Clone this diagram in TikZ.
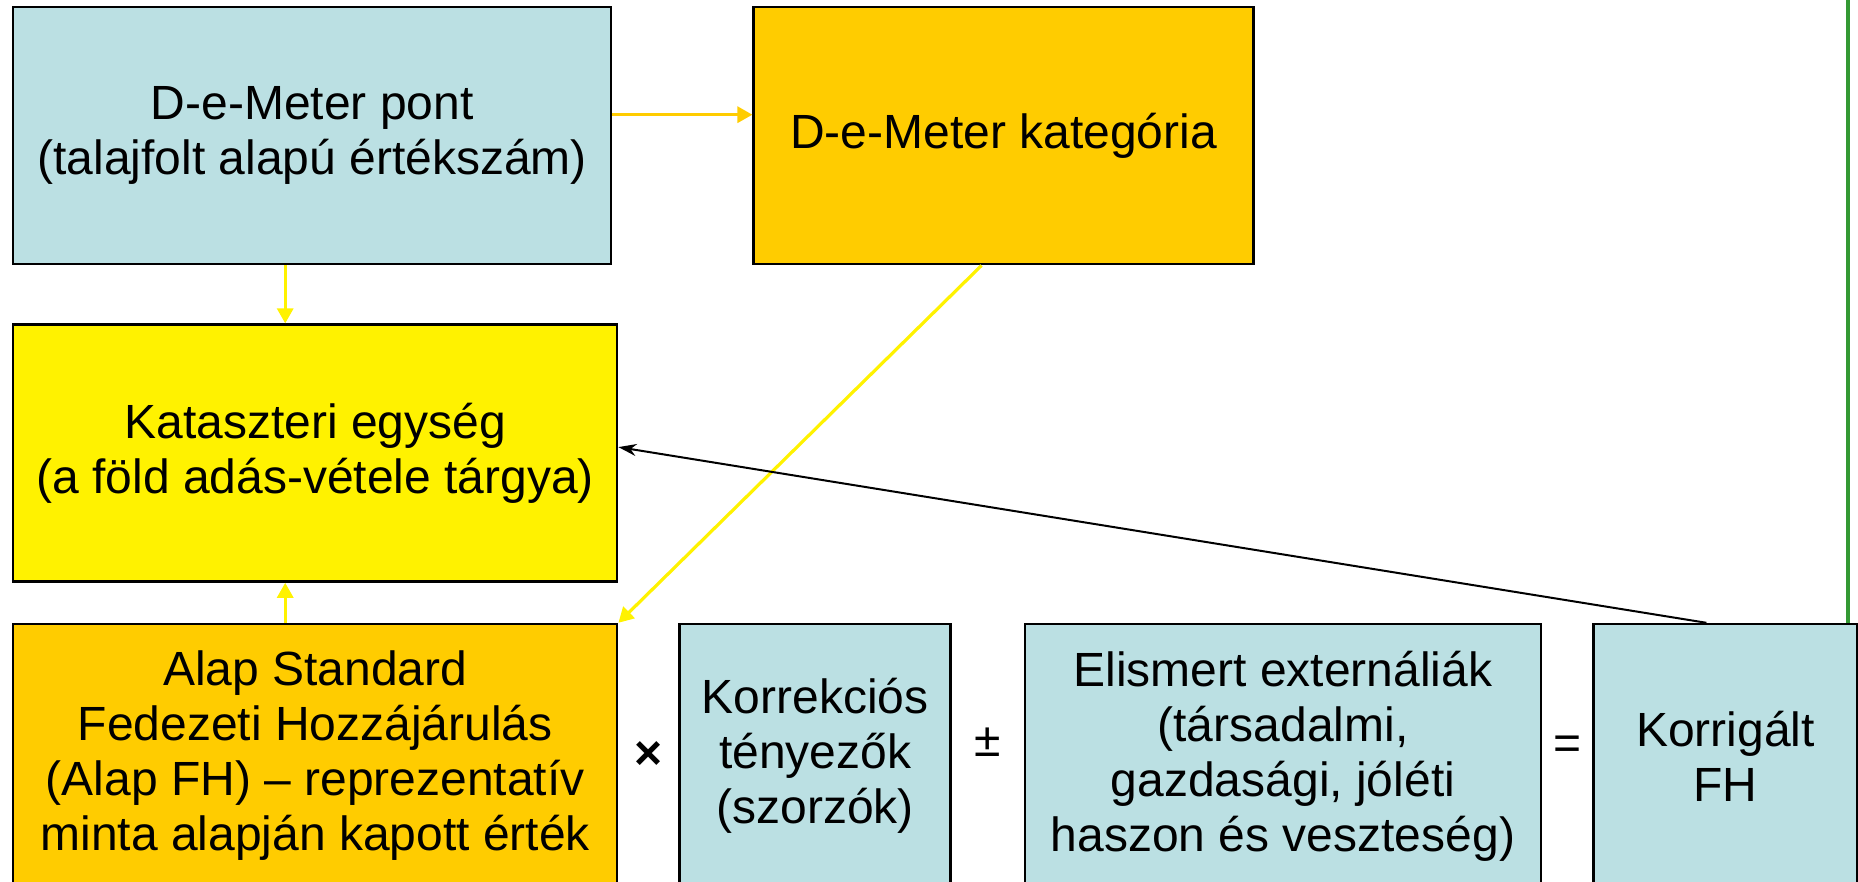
\documentclass[tikz,border=0pt]{standalone}
\usepackage{fontspec}
\setmainfont{Liberation Sans}
\usetikzlibrary{arrows.meta, positioning, calc}
\definecolor{lightblue}{RGB}{187,224,227}
\definecolor{gold}{RGB}{255,204,0}
\definecolor{linegreen}{RGB}{51,153,51}
\tikzstyle{box} = [rectangle, draw=black, line width=1.2pt, inner sep=0pt, align=center, font=\fontsize{24}{27.5}\selectfont]
\tikzstyle{bluebox} = [box, fill=lightblue]
\tikzstyle{goldbox} = [box, fill=gold]
\tikzstyle{yellowbox} = [box, fill=yellow]
\tikzstyle{op} = [font=\fontsize{24}{27.5}\selectfont]
\tikzstyle{goldarrow} = [line width=1.6pt, gold, -{Triangle[length=7.5pt,width=8pt]}]
\tikzstyle{yellowarrow} = [line width=1.6pt, yellow, -{Triangle[length=7.5pt,width=8pt]}]
\tikzstyle{blackarrow} = [line width=1pt, black, -{Stealth[length=9pt,width=6pt]}]

\begin{document}
\begin{tikzpicture}
	\useasboundingbox (0,0) rectangle (929pt,-441pt);

	% Top row
	\node (pont) [bluebox, minimum width=299pt, minimum height=128.5pt, anchor=north west] at (6pt,-3pt) {D-e-Meter pont\\(talajfolt alapú értékszám)};
	\node (kategoria) [goldbox, minimum width=250pt, minimum height=128.5pt, right=70pt of pont] {D-e-Meter kategória};

	% Left column
	\node (kat) [yellowbox, minimum width=302pt, minimum height=128.5pt, below right=29pt and 0pt of pont.south west] {Kataszteri egység\\(a föld adás-vétele tárgya)};
	\node (alap) [goldbox, minimum width=302pt, minimum height=132pt, below right=20pt and 0pt of kat.south west] {Alap Standard\\Fedezeti Hozzájárulás\\(Alap FH) -- reprezentatív\\minta alapján kapott érték};

	% Bottom row
	\node (korrekcio) [bluebox, minimum width=135.5pt, minimum height=132pt, right=30pt of alap] {Korrekciós\\tényezők\\(szorzók)};
	\node (extern) [bluebox, minimum width=258pt, minimum height=132pt, right=36pt of korrekcio] {Elismert externáliák\\(társadalmi,\\gazdasági, jóléti\\haszon és veszteség)};
	\node (korrigalt) [bluebox, minimum width=132pt, minimum height=132pt, right=25pt of extern] {Korrigált\\FH};

	% Operators
	\node (times) [op] at ($(alap.east)!0.5!(korrekcio.west)$) {\textbf{×}};
	\node (pm) [op, yshift=7pt] at ($(korrekcio.east)!0.5!(extern.west)$) {±};
	\node (eq) [op, yshift=4pt] at ($(extern.east)!0.5!(korrigalt.west)$) {=};

	% Arrows
	\draw [goldarrow] ([yshift=10.5pt]pont.east) -- ([yshift=10.5pt]kategoria.west);
	\draw [yellowarrow] ([xshift=-13.5pt]pont.south) -- ([xshift=-13.5pt]pont.south |- kat.north);
	\draw [yellowarrow] ([xshift=-13.5pt]pont.south |- alap.north) -- ([xshift=-13.5pt]pont.south |- kat.south);
	\draw [yellowarrow] ([xshift=-11pt]kategoria.south) -- (alap.north east);
	\draw [blackarrow] ([xshift=-9.5pt]korrigalt.north) -- ([yshift=3pt]kat.east);

	% Green line
	\coordinate (gtop) at ([xshift=-5.5pt]korrigalt.north east |- 0,0);
	\draw [linegreen, line width=2pt] (gtop) -- (gtop |- korrigalt.north);

\end{tikzpicture}
\end{document}
